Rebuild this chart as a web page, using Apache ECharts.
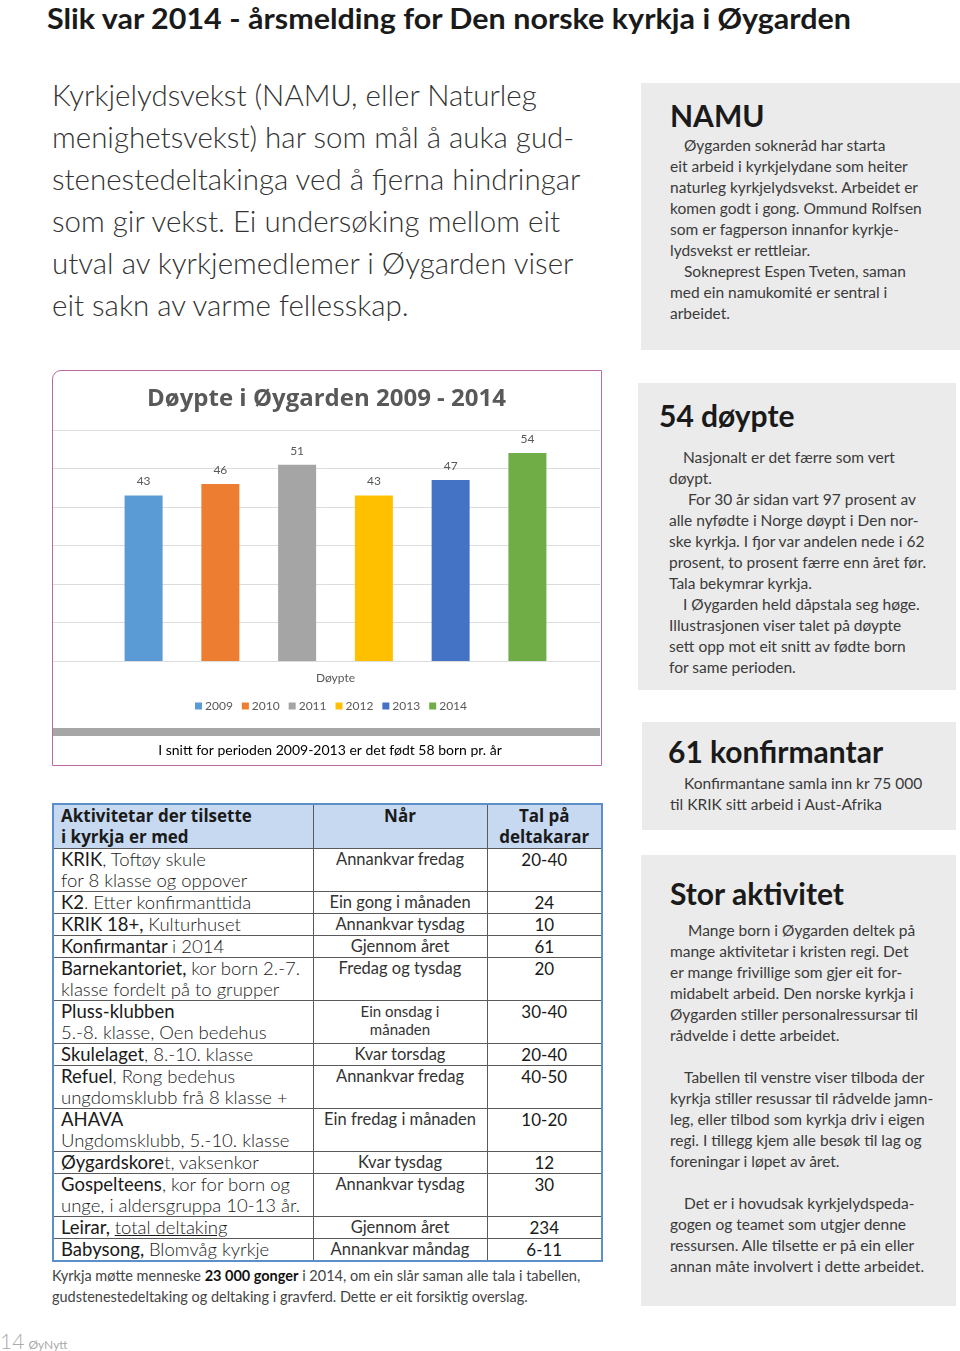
<!DOCTYPE html>
<html><head><meta charset="utf-8">
<script src="https://cdn.jsdelivr.net/npm/echarts@6/dist/echarts.min.js"></script>
<style>
html,body{margin:0;padding:0;background:#fff;}
body{width:960px;height:1351px;position:relative;overflow:hidden;font-family:Lato,"Open Sans",sans-serif;color:#231f20;}
.abs{position:absolute;}
.title{left:47px;top:1px;font-weight:bold;font-size:28px;line-height:34px;white-space:nowrap;transform-origin:0 0;color:#1a1a1a;}
.intro{left:52px;top:74px;font-size:29.5px;line-height:42px;font-weight:300;white-space:nowrap;color:#333;}
.box{background:#ebebeb;}
.hd{position:absolute;font-weight:bold;font-size:30px;line-height:34px;white-space:nowrap;color:#1a1a1a;}
.bt{position:absolute;font-size:15.5px;line-height:21px;white-space:nowrap;color:#3a3a3a;}
.ind{padding-left:14px;}
#chartbox{left:52px;top:370px;width:550px;height:396px;box-sizing:border-box;border:1.5px solid #b96b9f;border-top-left-radius:9px;}
#chart{position:absolute;left:0;top:0;width:547px;height:393px;}
table{position:absolute;left:52px;top:803px;width:549px;border-collapse:collapse;table-layout:fixed;border:2px solid #5b8fc9;}
td{border:1px solid #5a5a5a;padding:0;vertical-align:top;font-size:18.5px;line-height:21px;white-space:nowrap;color:#1a1a1a;}
td.c1{padding-left:7px;}
td.c2{text-align:center;font-size:16.5px;color:#333;}
td.c3{text-align:center;font-size:17px;}
tr.h td{background:#c6d9f1;font-weight:bold;font-size:17px;font-family:"Open Sans",sans-serif;}
b{font-weight:bold;}
.note{left:52px;top:1265px;font-size:14.5px;line-height:21px;color:#444;white-space:nowrap;}
</style></head>
<body>
<div class="abs title" id="title">Slik var 2014 - årsmelding for Den norske kyrkja i Øygarden</div>

<div class="abs intro">Kyrkjelydsvekst (NAMU, eller Naturleg<br>menighetsvekst) har som mål å auka gud-<br>stenestedeltakinga ved å fjerna hindringar<br>som gir vekst. Ei undersøking mellom eit<br>utval av kyrkjemedlemer i Øygarden viser<br>eit sakn av varme fellesskap.</div>

<div class="abs box" style="left:641px;top:83px;width:319px;height:267px;">
  <div class="hd" style="left:29px;top:15px;">NAMU</div>
  <div class="bt" style="left:29px;top:52px;">
    <div class="ind">Øygarden sokneråd har starta</div>
    <div>eit arbeid i kyrkjelydane som heiter</div>
    <div>naturleg kyrkjelydsvekst. Arbeidet er</div>
    <div>komen godt i gong. Ommund Rolfsen</div>
    <div>som er fagperson innanfor kyrkje-</div>
    <div>lydsvekst er rettleiar.</div>
    <div class="ind">Sokneprest Espen Tveten, saman</div>
    <div>med ein namukomité er sentral i</div>
    <div>arbeidet.</div>
  </div>
</div>

<div class="abs" id="chartbox"><div id="chart"></div></div>

<div class="abs box" style="left:638px;top:383px;width:318px;height:307px;">
  <div class="hd" style="left:21px;top:15px;">54 døypte</div>
  <div class="bt" style="left:31px;top:64px;">
    <div class="ind">Nasjonalt er det færre som vert</div>
    <div>døypt.</div>
    <div style="padding-left:19px;">For 30 år sidan vart 97 prosent av</div>
    <div>alle nyfødte i Norge døypt i Den nor-</div>
    <div>ske kyrkja. I fjor var andelen nede i 62</div>
    <div>prosent, to prosent færre enn året før.</div>
    <div>Tala bekymrar kyrkja.</div>
    <div class="ind">I Øygarden held dåpstala seg høge.</div>
    <div>Illustrasjonen viser talet på døypte</div>
    <div>sett opp mot eit snitt av fødte born</div>
    <div>for same perioden.</div>
  </div>
</div>

<div class="abs box" style="left:642px;top:722px;width:314px;height:108px;">
  <div class="hd" style="left:26px;top:12px;">61 konfirmantar</div>
  <div class="bt" style="left:28px;top:51px;">
    <div class="ind">Konfirmantane samla inn kr 75 000</div>
    <div>til KRIK sitt arbeid i Aust-Afrika</div>
  </div>
</div>

<div class="abs box" style="left:641px;top:855px;width:315px;height:451px;">
  <div class="hd" style="left:29px;top:21px;">Stor aktivitet</div>
  <div class="bt" style="left:29px;top:65px;">
    <div style="padding-left:18px;">Mange born i Øygarden deltek på</div>
    <div>mange aktivitetar i kristen regi. Det</div>
    <div>er mange frivillige som gjer eit for-</div>
    <div>midabelt arbeid. Den norske kyrkja i</div>
    <div>Øygarden stiller personalressursar til</div>
    <div>rådvelde i dette arbeidet.</div>
    <div>&nbsp;</div>
    <div class="ind">Tabellen til venstre viser tilboda der</div>
    <div>kyrkja stiller resussar til rådvelde jamn-</div>
    <div>leg, eller tilbod som kyrkja driv i eigen</div>
    <div>regi. I tillegg kjem alle besøk til lag og</div>
    <div>foreningar i løpet av året.</div>
    <div>&nbsp;</div>
    <div class="ind">Det er i hovudsak kyrkjelydspeda-</div>
    <div>gogen og teamet som utgjer denne</div>
    <div>ressursen. Alle tilsette er på ein eller</div>
    <div>annan måte involvert i dette arbeidet.</div>
  </div>
</div>

<table>
<colgroup><col style="width:260px"><col style="width:174px"><col style="width:115px"></colgroup>
<tr class="h" style="height:44px"><td class="c1">Aktivitetar der tilsette<br>i kyrkja er med</td><td class="c2" style="font-size:17px;color:#1a1a1a">Når</td><td class="c3">Tal på<br>deltakarar</td></tr>
<tr style="height:43px"><td class="c1">KRIK<span style="font-weight:300">, Toftøy skule<br>for 8 klasse og oppover</span></td><td class="c2">Annankvar fredag</td><td class="c3">20-40</td></tr>
<tr style="height:21px"><td class="c1">K2<span style="font-weight:300">. Etter konfirmanttida</span></td><td class="c2">Ein gong i månaden</td><td class="c3">24</td></tr>
<tr style="height:22px"><td class="c1">KRIK 18+, <span style="font-weight:300">Kulturhuset</span></td><td class="c2">Annankvar tysdag</td><td class="c3">10</td></tr>
<tr style="height:22px"><td class="c1">Konfirmantar <span style="font-weight:300">i 2014</span></td><td class="c2">Gjennom året</td><td class="c3">61</td></tr>
<tr style="height:42px"><td class="c1">Barnekantoriet, <span style="font-weight:300">kor born 2.-7.<br>klasse fordelt på to grupper</span></td><td class="c2">Fredag og tysdag</td><td class="c3">20</td></tr>
<tr style="height:43px"><td class="c1">Pluss-klubben<br><span style="font-weight:300">5.-8. klasse, Oen bedehus</span></td><td class="c2" style="font-size:15px;line-height:18px;padding-top:1px">Ein onsdag i<br>månaden</td><td class="c3">30-40</td></tr>
<tr style="height:21px"><td class="c1">Skulelaget<span style="font-weight:300">, 8.-10. klasse</span></td><td class="c2">Kvar torsdag</td><td class="c3">20-40</td></tr>
<tr style="height:43px"><td class="c1">Refuel<span style="font-weight:300">, Rong bedehus<br>ungdomsklubb frå 8 klasse +</span></td><td class="c2">Annankvar fredag</td><td class="c3">40-50</td></tr>
<tr style="height:42px"><td class="c1">AHAVA<br><span style="font-weight:300">Ungdomsklubb, 5.-10. klasse</span></td><td class="c2">Ein fredag i månaden</td><td class="c3">10-20</td></tr>
<tr style="height:22px"><td class="c1">Øygardskore<span style="font-weight:300">t, vaksenkor</span></td><td class="c2">Kvar tysdag</td><td class="c3">12</td></tr>
<tr style="height:42px"><td class="c1">Gospelteens<span style="font-weight:300">, kor for born og<br>unge, i aldersgruppa 10-13 år.</span></td><td class="c2">Annankvar tysdag</td><td class="c3">30</td></tr>
<tr style="height:22px"><td class="c1">Leirar, <span style="font-weight:300;text-decoration:underline">total deltaking</span></td><td class="c2">Gjennom året</td><td class="c3">234</td></tr>
<tr style="height:22px"><td class="c1">Babysong, <span style="font-weight:300">Blomvåg kyrkje</span></td><td class="c2">Annankvar måndag</td><td class="c3">6-11</td></tr>
</table>

<div class="abs note">Kyrkja møtte menneske <b style="color:#111">23 000 gonger</b> i 2014, om ein slår saman alle tala i tabellen,<br>gudstenestedeltaking og deltaking i gravferd. Dette er eit forsiktig overslag.</div>

<div class="abs" style="left:0;top:1328px;white-space:nowrap;color:#aaa;"><span style="font-size:21px;font-weight:300;">14</span> <span style="font-size:12px;">ØyNytt</span></div>

<script>
// ---- chart data ----
const years = ['2009', '2010', '2011', '2012', '2013', '2014'];
const baptized = [43, 46, 51, 43, 47, 54];
const category = ['Døypte'];
const chartTitle = 'Døypte i Øygarden 2009 - 2014';
const caption = 'I snitt for perioden 2009-2013 er det født 58 born pr. år';
const palette = ['#5b9bd5', '#ed7d31', '#a5a5a5', '#ffc000', '#4472c4', '#70ad47'];

// fit page title width
(function(){
  const t = document.getElementById('title');
  const w = t.getBoundingClientRect().width;
  t.style.transform = 'scaleX(' + (804 / w) + ')';
})();

const chart = echarts.init(document.getElementById('chart'), null, {renderer: 'canvas'});
const lab = '#595959';
chart.setOption({
  animation: false,
  title: {
    text: chartTitle, left: 'center', top: 11,
    textStyle: {fontFamily: 'Open Sans', fontSize: 24, fontWeight: 'bold', color: lab}
  },
  legend: {
    data: years, left: 142, top: 329, icon: 'rect', itemWidth: 7, itemHeight: 7, itemGap: 9, padding: 0,
    textStyle: {fontFamily: 'Lato', fontSize: 12, color: lab, padding: [0, 0, 0, -2]}
  },
  grid: [
    {left: 0, right: 0, top: 59, bottom: 103},
    {left: 19, right: 1, top: 59, bottom: 103}
  ],
  xAxis: [
    {gridIndex: 0, type: 'category', data: category, show: false},
    {gridIndex: 1, type: 'category', data: category, axisLine: {show: false}, axisTick: {show: false},
     axisLabel: {color: lab, fontFamily: 'Lato', fontSize: 12, margin: 11}}
  ],
  yAxis: [
    {gridIndex: 0, type: 'value', min: 0, max: 60, interval: 10,
     axisLabel: {show: false}, axisLine: {show: false}, axisTick: {show: false},
     splitLine: {lineStyle: {color: '#dcdcdc', width: 1}}},
    {gridIndex: 1, type: 'value', min: 0, max: 60, interval: 10, show: false, splitLine: {show: false}}
  ],
  series: years.map((y, i) => ({
    name: y, type: 'bar', xAxisIndex: 1, yAxisIndex: 1,
    data: [baptized[i]], barWidth: 38, barGap: '102%',
    itemStyle: {color: palette[i]},
    label: {show: true, position: 'top', distance: 8, color: lab, fontFamily: 'Lato', fontSize: 12}
  })),
  graphic: [
    {type: 'rect', left: 0, top: 357, shape: {width: 547, height: 8}, style: {fill: '#a6a6a6'}},
    {type: 'text', x: 277, y: 379, style: {text: caption, font: '14px Lato', fill: '#000', textAlign: 'center', textVerticalAlign: 'middle'}}
  ]
});
</script>
</body></html>
